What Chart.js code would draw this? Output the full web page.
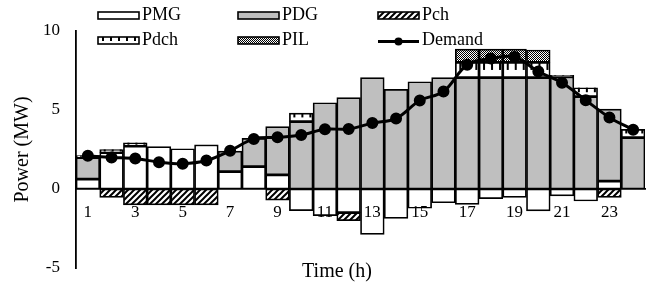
<!DOCTYPE html>
<html>
<head>
<meta charset="UTF-8">
<title>Power dispatch</title>
<script src="https://cdn.jsdelivr.net/npm/chart.js"></script>
<style>
  body { margin: 0; background: #fff; }
</style>
</head>
<body>
<canvas id="powerChart" width="654" height="282"></canvas>
<script>
var hours = ['1','2','3','4','5','6','7','8','9','10','11','12','13','14','15','16','17','18','19','20','21','22','23','24'];
var pmg = [0.63, 2.3, 2.72, 2.68, 2.55, 2.8, 1.1, 1.41, 0.89, -1.37, -1.69, -1.5, -2.87, -1.86, -1.22, -0.87, -0.97, -0.61, -0.53, -1.39, -0.44, -0.76, 0.5, 0];
var pdg = [1.35, 0, 0, 0, 0, 0, 1.3, 1.79, 3.06, 4.26, 5.46, 5.78, 7.05, 6.31, 6.79, 7.05, 7.05, 7.05, 7.05, 7.05, 7.1, 5.84, 4.56, 3.25];
var pch = [0, -0.53, -1.0, -1.0, -1.0, -1.0, 0, 0, -0.7, 0, 0, -0.5, 0, 0, 0, 0, 0, 0, 0, 0, 0, 0, -0.53, 0];
var pdch = [0.13, 0.2, 0.21, 0, 0, 0, 0, 0, 0, 0.54, 0, 0, 0, 0, 0, 0, 0.97, 0.97, 0.97, 0.97, 0.1, 0.57, 0, 0.53];
var pil = [0, 0, 0, 0, 0, 0, 0, 0, 0, 0, 0, 0, 0, 0, 0, 0, 0.83, 0.83, 0.83, 0.78, 0, 0, 0, 0];
var demand = [2.1, 2.0, 1.93, 1.7, 1.6, 1.8, 2.42, 3.17, 3.27, 3.42, 3.78, 3.8, 4.17, 4.46, 5.6, 6.17, 7.87, 8.26, 8.35, 7.43, 6.73, 5.62, 4.53, 3.75];
var yTicks = [-5, 0, 5, 10];

var serif = "'Liberation Serif', 'Times New Roman', serif";

function makePattern(w, h, draw) {
  var c = document.createElement('canvas');
  c.width = w; c.height = h;
  var g = c.getContext('2d');
  draw(g, w, h);
  return g.createPattern(c, 'repeat');
}

// diagonal stripes for charging
var hatch = makePattern(6, 6, function (g, w, h) {
  g.fillStyle = '#fff';
  g.fillRect(0, 0, w, h);
  g.strokeStyle = '#000';
  g.lineWidth = 2;
  g.beginPath();
  g.moveTo(-1, 1); g.lineTo(1, -1);
  g.moveTo(0, h); g.lineTo(w, 0);
  g.moveTo(w - 1, h + 1); g.lineTo(w + 1, h - 1);
  g.stroke();
});

// fine checker for interruptible load
var checker = makePattern(2, 2, function (g) {
  g.fillStyle = '#fff';
  g.fillRect(0, 0, 2, 2);
  g.fillStyle = '#000';
  g.fillRect(0, 0, 1, 1);
  g.fillRect(1, 1, 1, 1);
});

// ruler ticks hanging from the top of each discharge bar
function drawTicks(ctx, left, right, top, h, len) {
  ctx.save();
  ctx.fillStyle = '#000';
  for (var x = left + 4; x < right - 2; x += 8) {
    ctx.fillRect(x, top, 2, Math.min(len, h));
  }
  ctx.restore();
}

var pdchTicks = {
  id: 'pdchTicks',
  afterDatasetDraw: function (chart, args) {
    if (args.index !== 3) return;
    var ctx = chart.ctx;
    args.meta.data.forEach(function (el) {
      var top = Math.min(el.y, el.base);
      var h = Math.abs(el.base - el.y);
      if (h < 1) return;
      drawTicks(ctx, el.x - el.width / 2, el.x + el.width / 2, top, h - 1, Math.max(2, h * 0.5));
    });
  }
};

var legendItems = [
  { text: 'PMG', fill: '#fff', col: 0, row: 0 },
  { text: 'PDG', fill: '#bfbfbf', col: 1, row: 0 },
  { text: 'Pch', fill: hatch, col: 2, row: 0 },
  { text: 'Pdch', fill: '#fff', col: 0, row: 1, ticks: true },
  { text: 'PIL', fill: checker, col: 1, row: 1 },
  { text: 'Demand', line: true, col: 2, row: 1 }
];
var legendCols = [98, 238, 378];
var legendRows = [15.5, 40.5];

var extras = {
  id: 'extras',
  afterDraw: function (chart) {
    var ctx = chart.ctx;
    ctx.save();
    ctx.font = '18px ' + serif;
    ctx.textBaseline = 'middle';
    legendItems.forEach(function (it) {
      var x = legendCols[it.col], y = legendRows[it.row];
      if (it.line) {
        ctx.strokeStyle = '#000';
        ctx.lineWidth = 3;
        ctx.beginPath();
        ctx.moveTo(x, y + 1); ctx.lineTo(x + 41, y + 1);
        ctx.stroke();
        ctx.fillStyle = '#000';
        ctx.beginPath();
        ctx.arc(x + 20.5, y + 1, 4, 0, Math.PI * 2);
        ctx.fill();
      } else {
        ctx.fillStyle = it.fill;
        ctx.fillRect(x, y - 3.5, 41, 7);
        if (it.ticks) drawTicks(ctx, x, x + 41, y - 3.5, 7, 4);
        ctx.strokeStyle = '#000';
        ctx.lineWidth = 1.6;
        ctx.strokeRect(x, y - 3.5, 41, 7);
      }
      ctx.fillStyle = '#000';
      ctx.fillText(it.text, x + 44, y);
    });
    ctx.font = '20px ' + serif;
    ctx.textAlign = 'center';
    ctx.textBaseline = 'alphabetic';
    ctx.fillText('Time (h)', 337, 277);
    ctx.restore();
  }
};

function barSet(label, data, fill) {
  return {
    type: 'bar',
    label: label,
    data: data,
    backgroundColor: fill,
    borderColor: '#000',
    borderWidth: 1.7,
    borderSkipped: false,
    barPercentage: 1,
    categoryPercentage: 1,
    stack: 'power',
    order: 1
  };
}

new Chart(document.getElementById('powerChart'), {
  data: {
    labels: hours,
    datasets: [
      barSet('PMG', pmg, '#fff'),
      barSet('PDG', pdg, '#bfbfbf'),
      barSet('Pch', pch, hatch),
      barSet('Pdch', pdch, '#fff'),
      barSet('PIL', pil, checker),
      {
        type: 'line',
        label: 'Demand',
        data: demand,
        borderColor: '#000',
        backgroundColor: '#000',
        borderWidth: 3,
        pointRadius: 4.5,
        pointBackgroundColor: '#000',
        tension: 0.35,
        stack: 'line',
        order: 0
      }
    ]
  },
  options: {
    responsive: false,
    animation: false,
    layout: { padding: { top: 31, right: 9, bottom: 14, left: 0 } },
    plugins: { legend: { display: false }, tooltip: { enabled: false } },
    scales: {
      x: {
        type: 'category',
        position: { y: 0 },
        stacked: true,
        grid: { display: false, drawTicks: false },
        border: { display: true, color: '#000', width: 1.8 },
        ticks: {
          z: 1,
          autoSkip: false,
          maxRotation: 0,
          padding: 13,
          color: '#000',
          font: { family: serif, size: 17 },
          callback: function (value, index) {
            return index % 2 === 0 ? this.getLabelForValue(value) : '';
          }
        },
        afterFit: function (scale) { scale.height = 0; }
      },
      y: {
        stacked: true,
        min: -5,
        max: 10,
        afterBuildTicks: function (scale) {
          scale.ticks = yTicks.map(function (v) { return { value: v }; });
        },
        grid: { display: false, drawTicks: false },
        border: { display: true, color: '#000', width: 1.8 },
        ticks: {
          padding: 16,
          color: '#000',
          font: { family: serif, size: 17 }
        },
        title: {
          display: true,
          text: 'Power (MW)',
          color: '#000',
          font: { family: serif, size: 20 },
          padding: { top: 11 }
        },
        afterFit: function (scale) {
          scale.width = 76;
          scale.paddingTop = 0;
          scale.paddingBottom = 0;
        }
      }
    }
  },
  plugins: [pdchTicks, extras]
});
</script>
</body>
</html>
